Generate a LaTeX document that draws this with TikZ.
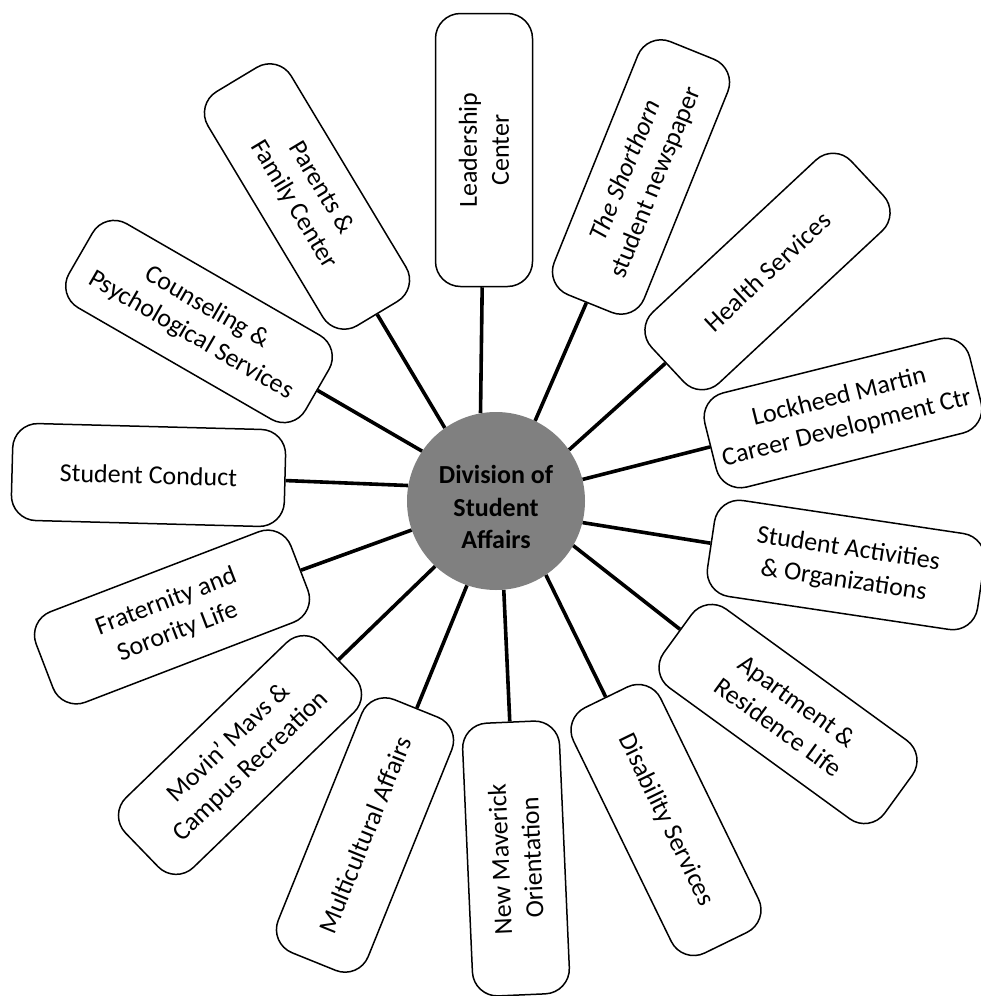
\documentclass[tikz,border=0pt]{standalone}
\usepackage{fontspec}
\setmainfont{Carlito}
\definecolor{hubgray}{RGB}{128,128,128}
\begin{document}
\begin{tikzpicture}[x=1pt,y=-1pt,
  box/.style={draw, line width=1.5pt, rounded corners=25pt, fill=white,
    minimum width=273pt, minimum height=97pt, inner sep=2pt, align=center,
    font=\fontsize{26}{32}\selectfont},
  conn/.style={line width=3.6pt}]
\useasboundingbox (0,0) rectangle (980,996);
\node[circle, fill=hubgray, minimum size=178pt, inner sep=0pt,
  label={[align=center, yshift=-6pt, font=\bfseries\fontsize{26}{32.5}\selectfont]center:Division of\\Student\\Affairs}] (c) at (496,501) {};
\node[box, rotate=90]   (lead)  at (484,150)     {Leadership\\Center};
\node[box, rotate=68]   (short) at (641,177)     {\textit{The Shorthorn}\\student newspaper};
\node[box, rotate=43]   (health) at (767.5,271.5) {Health Services};
\node[box, rotate=14]   (lock)  at (843,413)     {Lockheed Martin\\Career Development Ctr};
\node[box, rotate=-8.5] (act)   at (846,565)     {Student Activities\\\& Organizations};
\node[box, rotate=-36]  (apt)   at (788,714)     {Apartment \&\\Residence Life};
\node[box, rotate=-64]  (dis)   at (666,820)     {Disability Services};
\node[box, rotate=92.5] (nmo)   at (516,858.5)   {New Maverick\\Orientation};
\node[box, rotate=68]   (multi) at (365,835)     {Multicultural Affairs};
\node[box, rotate=44]   (mavs)  at (240,755)     {Movin’ Mavs \&\\Campus Recreation};
\node[box, rotate=21]   (frat)  at (172,617)     {Fraternity and\\Sorority Life};
\node[box, rotate=-1.5] (cond)  at (148.5,475)   {Student Conduct};
\node[box, rotate=-30]  (couns) at (199,321.5)   {Counseling \&\\Psychological Services};
\node[box, rotate=-59]  (par)   at (307,196.5)   {Parents \&\\Family Center};
\draw[conn] (c.125) -- (par);
\draw[conn] (c.100) -- (lead);
\draw[conn] (c.64) -- (short);
\draw[conn] (c.35.6) -- (health);
\draw[conn] (c.14.8) -- (lock);
\draw[conn] (c.-14.8) -- (act);
\draw[conn] (c.-30) -- (apt);
\draw[conn] (c.-56) -- (dis);
\draw[conn] (c.-85.5) -- (nmo);
\draw[conn] (c.-109) -- (multi);
\draw[conn] (c.-133) -- (mavs);
\draw[conn] (c.-161) -- (frat);
\draw[conn] (c.170) -- (cond);
\draw[conn] (c.146.5) -- (couns);
\end{tikzpicture}
\end{document}
